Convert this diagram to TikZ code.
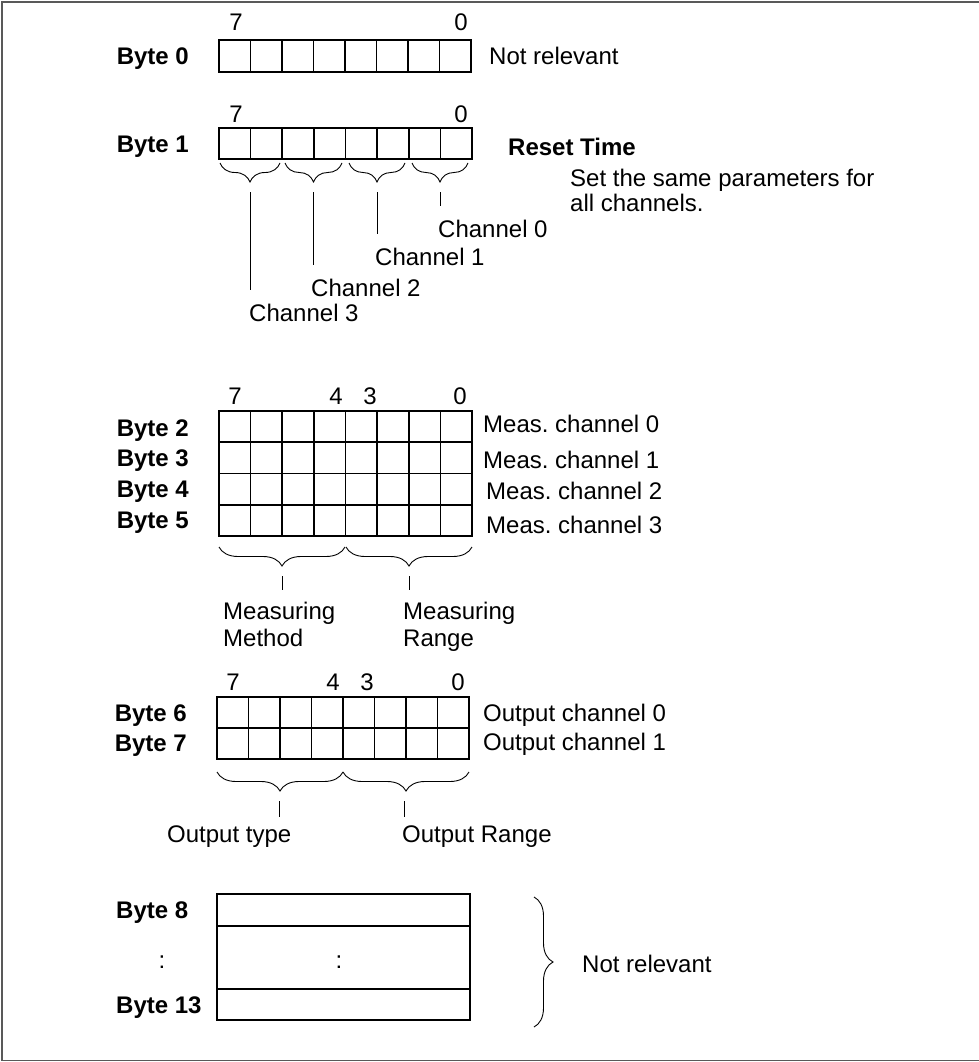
\documentclass[tikz,border=0pt]{standalone}
\usepackage{fontspec}
\setmainfont{Liberation Sans}
\usetikzlibrary{decorations.pathreplacing}
\frenchspacing

\begin{document}
\begin{tikzpicture}[
    x=1pt, y=-1pt,
    cell_line/.style={line width=1.6pt, draw=black},
    frame_line/.style={line width=1.5pt, draw=black!65},
    brace_down/.style={line width=0.9pt, decorate, decoration={brace, mirror, amplitude=19pt}},
    brace_right/.style={line width=0.9pt, decorate, decoration={brace, amplitude=19pt}},
    tick_line/.style={line width=0.9pt, shorten <=10pt},
    lbl/.style={inner sep=0pt, font=\fontsize{24}{27}\selectfont, align=left, anchor=base west},
    byte_lbl/.style={inner sep=0pt, font=\fontsize{24}{27}\selectfont\bfseries, anchor=base east},
    bit_lbl/.style={inner sep=0pt, font=\fontsize{24}{27}\selectfont, anchor=base}
]
    \useasboundingbox (0,0) rectangle (978,1062);

    % Outer frame
    \draw[frame_line] (2,2) rectangle (1000,1060.5);

    % Byte 0
    \node (bit0_7) [bit_lbl] at (236,31) {7};
    \node (bit0_0) [bit_lbl] at (461,31) {0};
    \node (byte0) [byte_lbl] at (189,65) {Byte 0};
    \draw[cell_line] (219,40) rectangle (471,72);
    \foreach \k in {1,...,7}
        \draw[cell_line] ({219+\k*31.5},40) -- ++(0,32);
    \node (byte0_txt) [lbl] at (489,65) {Not relevant};

    % Byte 1
    \node (bit1_7) [bit_lbl] at (236,122) {7};
    \node (bit1_0) [bit_lbl] at (461,122) {0};
    \node (byte1) [byte_lbl] at (189,153) {Byte 1};
    \draw[cell_line] (219,128) rectangle (472,159);
    \foreach \k in {1,...,7}
        \draw[cell_line] ({219+\k*31.625},128) -- ++(0,31);
    \node (reset) [lbl, font=\fontsize{24}{27}\selectfont\bfseries] at (508,155) {Reset Time};
    \node (reset_txt) [lbl, font=\fontsize{24}{25}\selectfont] at (570,211) {Set the same parameters for\\all channels.};

    % Byte 1 channel braces
    \foreach \i/\a/\b in {3/220/280, 2/285/342, 1/349/405, 0/412/468} {
        \draw[brace_down] (\a,163) -- (\b,163);
        \coordinate (tip_ch\i) at ({(\a+\b)/2},182);
    }
    \node (ch0) [lbl] at (438,237) {Channel 0};
    \node (ch1) [lbl] at (375,265) {Channel 1};
    \node (ch2) [lbl] at (311,296) {Channel 2};
    \node (ch3) [lbl] at (249,321) {Channel 3};
    \foreach \i in {0,...,3}
        \draw[tick_line, shorten >=13pt] (tip_ch\i) -- (tip_ch\i |- ch\i.north);

    % Bytes 2 to 5
    \node (bit2_7) [bit_lbl] at (235,404) {7};
    \node (bit2_4) [bit_lbl] at (336,404) {4};
    \node (bit2_3) [bit_lbl] at (370,404) {3};
    \node (bit2_0) [bit_lbl] at (460,404) {0};
    \foreach \n/\y in {2/436, 3/466, 4/497, 5/528}
        \node (byte\n) [byte_lbl] at (189,\y) {Byte \n};
    \draw[cell_line] (219,411) rectangle (472,536);
    \foreach \k in {1,...,7}
        \draw[cell_line] ({219+\k*31.625},411) -- ++(0,125);
    \foreach \r in {1,2,3}
        \draw[cell_line] (219,{411+\r*31.25}) -- (472,{411+\r*31.25});
    \node (meas0) [lbl] at (483,432) {Meas. channel 0};
    \node (meas1) [lbl] at (483,468) {Meas. channel 1};
    \node (meas2) [lbl] at (486,499) {Meas. channel 2};
    \node (meas3) [lbl] at (486,533) {Meas. channel 3};

    \draw[brace_down] (219,547) -- (345,547);
    \draw[brace_down] (346,547) -- (472,547);
    \coordinate (tip_method) at (282,566);
    \coordinate (tip_range) at (409,566);
    \node (method) [lbl] at (223,646) {Measuring\\Method};
    \node (range) [lbl] at (403,646) {Measuring\\Range};
    \draw[tick_line, shorten >=11pt] (tip_method) -- (tip_method |- method.north);
    \draw[tick_line, shorten >=11pt] (tip_range) -- (tip_range |- range.north);

    % Bytes 6 and 7
    \node (bit6_7) [bit_lbl] at (233,690) {7};
    \node (bit6_4) [bit_lbl] at (333,690) {4};
    \node (bit6_3) [bit_lbl] at (367,690) {3};
    \node (bit6_0) [bit_lbl] at (458,690) {0};
    \node (byte6) [byte_lbl] at (187,721) {Byte 6};
    \node (byte7) [byte_lbl] at (187,751) {Byte 7};
    \draw[cell_line] (217,697) rectangle (469,759);
    \foreach \k in {1,...,7}
        \draw[cell_line] ({217+\k*31.5},697) -- ++(0,62);
    \draw[cell_line] (217,728) -- (469,728);
    \node (out0) [lbl] at (483,721) {Output channel 0};
    \node (out1) [lbl] at (483,750) {Output channel 1};

    \draw[brace_down] (217,772) -- (343,772);
    \draw[brace_down] (343,772) -- (469,772);
    \coordinate (tip_type) at (279,791);
    \coordinate (tip_orange) at (404,791);
    \node (otype) [lbl] at (167,842) {Output type};
    \node (orange) [lbl] at (402,842) {Output Range};
    \draw[tick_line, shorten >=8pt] (tip_type) -- (tip_type |- otype.north);
    \draw[tick_line, shorten >=8pt] (tip_orange) -- (tip_orange |- orange.north);

    % Bytes 8 to 13
    \node (byte8) [lbl, font=\fontsize{24}{27}\selectfont\bfseries] at (116,918) {Byte 8};
    \node (dots_l) [bit_lbl] at (162,968) {:};
    \node (byte13) [lbl, font=\fontsize{24}{27}\selectfont\bfseries] at (116,1013) {Byte 13};
    \draw[cell_line] (217,894) rectangle (470,1020);
    \draw[cell_line] (217,926) -- (470,926);
    \draw[cell_line] (217,989) -- (470,989);
    \node (dots_m) [bit_lbl] at (339,968) {:};

    \draw[brace_right] (534,897) -- (534,1027);
    \node (rest_txt) [lbl] at (582,972) {Not relevant};
\end{tikzpicture}
\end{document}
